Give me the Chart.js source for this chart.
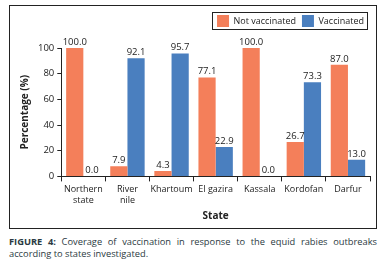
<!DOCTYPE html>
<html>
<head>
<meta charset="utf-8">
<script src="https://cdn.jsdelivr.net/npm/chart.js@4"></script>
<style>
    body { margin: 0; background: #fff; width: 385px; height: 264px; position: relative; overflow: hidden; }
    #frame { position: absolute; left: 9px; top: 5px; width: 366px; height: 222px; border: 1px solid #222; }
    #caption { position: absolute; left: 9px; top: 236px; width: 368px; font-family: "Open Sans", sans-serif; font-size: 9.3px; line-height: 12px; color: #2b3a42; text-align: justify; text-align-last: left; }
</style>
</head>
<body>
<div id="frame"><canvas id="stateChart" width="366" height="222"></canvas></div>
<div id="caption"><b>FIGURE 4:</b> Coverage of vaccination in response to the equid rabies outbreaks according to states investigated.</div>
<script>
// 数据
const states = [['Northern', 'state'], ['River', 'nile'], 'Khartoum', 'El gazira', 'Kassala', 'Kordofan', 'Darfur'];
const notVaccinated = [100.0, 7.9, 4.3, 77.1, 100.0, 26.7, 87.0];
const vaccinated = [0.0, 92.1, 95.7, 22.9, 0.0, 73.3, 13.0];
const yTicks = [0, 20, 40, 60, 80, 100];

const FONT = '"Open Sans", sans-serif';

// 柱顶数值标签
const valueLabels = {
    id: 'valueLabels',
    afterDatasetsDraw(chart) {
        const ctx = chart.ctx;
        ctx.save();
        ctx.font = '9.5px ' + FONT;
        ctx.fillStyle = '#222';
        ctx.textAlign = 'center';
        ctx.textBaseline = 'bottom';
        chart.data.datasets.forEach((ds, i) => {
            chart.getDatasetMeta(i).data.forEach((bar, j) => {
                ctx.fillText(ds.data[j].toFixed(1), bar.x, bar.y - 1);
            });
        });
        ctx.restore();
    }
};

// 图例下方留白 + 图例边框
const legendBox = {
    id: 'legendBox',
    beforeInit(chart) {
        const fit = chart.legend.fit;
        chart.legend.fit = function () {
            fit.bind(chart.legend)();
            this.height += 11;
        };
    },
    afterDraw(chart) {
        const boxes = chart.legend && chart.legend.legendHitBoxes;
        if (!boxes || !boxes.length) return;
        const first = boxes[0], last = boxes[boxes.length - 1];
        const ctx = chart.ctx;
        ctx.save();
        ctx.strokeStyle = '#222';
        ctx.lineWidth = 1;
        const x0 = Math.round(first.left) - 4.5;
        const x1 = Math.round(last.left + last.width) + 3.5;
        const y0 = Math.round(first.top) - 2.5;
        const y1 = Math.round(first.top + first.height) + 2.5;
        ctx.strokeRect(x0, y0, x1 - x0, y1 - y0);
        ctx.restore();
    }
};

const ctx = document.getElementById('stateChart');
new Chart(ctx, {
    type: 'bar',
    data: {
        labels: states,
        datasets: [{
            label: 'Not vaccinated',
            data: notVaccinated,
            backgroundColor: '#F47F5A'
        }, {
            label: 'Vaccinated',
            data: vaccinated,
            backgroundColor: '#4A7FBF'
        }]
    },
    options: {
        responsive: false,
        animation: false,
        layout: { padding: { top: 3, right: 6, left: 5, bottom: 2 } },
        plugins: {
            legend: {
                position: 'top',
                align: 'end',
                labels: {
                    boxWidth: 12,
                    boxHeight: 12,
                    padding: 6,
                    color: '#222',
                    font: { size: 9, family: FONT }
                }
            },
            tooltip: { enabled: false }
        },
        datasets: { bar: { categoryPercentage: 0.78, barPercentage: 1.0 } },
        scales: {
            x: {
                grid: { display: true, drawOnChartArea: false, color: '#222', tickLength: 5, offset: true },
                border: { color: '#222' },
                ticks: { color: '#222', autoSkip: false, font: { size: 9, family: FONT }, maxRotation: 0, padding: 3 },
                title: { display: true, text: 'State', color: '#222', font: { size: 10, weight: 'bold', family: FONT }, padding: { top: 1 } }
            },
            y: {
                min: 0,
                max: 100,
                afterBuildTicks: axis => { axis.ticks = yTicks.map(v => ({ value: v })); },
                grid: { display: true, drawOnChartArea: false, color: '#222', tickLength: 4 },
                border: { color: '#222' },
                ticks: { color: '#222', font: { size: 9.5, family: FONT }, padding: 3 },
                title: { display: true, text: 'Percentage (%)', color: '#222', font: { size: 10, weight: 'bold', family: FONT }, padding: { bottom: 4 } }
            }
        }
    },
    plugins: [valueLabels, legendBox]
});
</script>
</body>
</html>
